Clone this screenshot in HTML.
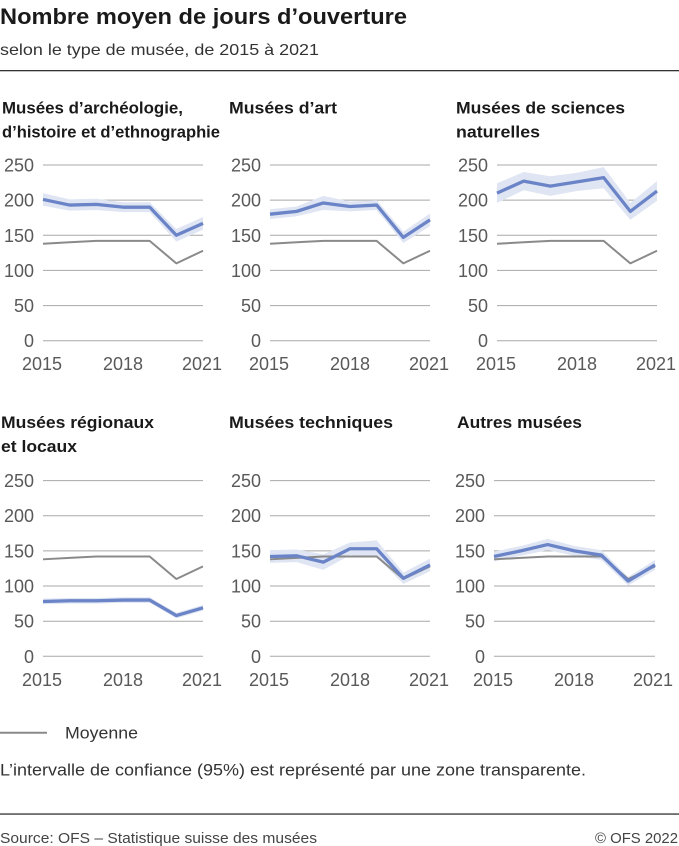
<!DOCTYPE html>
<html><head><meta charset="utf-8"><style>
html,body{margin:0;padding:0;background:#fff;}
svg{display:block;font-family:"Liberation Sans",Arial,sans-serif;}
.t{font-weight:bold;fill:#1a1a1a;}
.tk{font-size:18px;fill:#595959;}
.g{stroke:#a8a8a8;stroke-width:1;}
.band{fill:#dfe5f3;}
.avg{fill:none;stroke:#8a8a8a;stroke-width:2;vector-effect:non-scaling-stroke;stroke-linejoin:round;}
.blue{fill:none;stroke:#6a84c7;stroke-width:3.3;vector-effect:non-scaling-stroke;stroke-linejoin:round;}
</style></head><body>
<svg width="679" height="846" viewBox="0 0 679 846" xmlns="http://www.w3.org/2000/svg">
<text x="0" y="24" font-size="22" class="t" textLength="407" lengthAdjust="spacingAndGlyphs">Nombre moyen de jours d’ouverture</text>
<text x="0" y="55" font-size="16" fill="#333" textLength="319" lengthAdjust="spacingAndGlyphs">selon le type de musée, de 2015 à 2021</text>
<rect x="0" y="70" width="679" height="1.3" fill="#333"/>

<g font-size="17" class="t">
<text x="2" y="113.5" textLength="181" lengthAdjust="spacingAndGlyphs">Musées d’archéologie,</text>
<text x="2" y="137.5" textLength="218" lengthAdjust="spacingAndGlyphs">d’histoire et d’ethnographie</text>
<text x="229" y="113.5" textLength="108" lengthAdjust="spacingAndGlyphs">Musées d’art</text>
<text x="456" y="113.5" textLength="169" lengthAdjust="spacingAndGlyphs">Musées de sciences</text>
<text x="456" y="137.5" textLength="84" lengthAdjust="spacingAndGlyphs">naturelles</text>
<text x="1" y="428" textLength="153" lengthAdjust="spacingAndGlyphs">Musées régionaux</text>
<text x="1" y="452" textLength="76" lengthAdjust="spacingAndGlyphs">et locaux</text>
<text x="229" y="428" textLength="164" lengthAdjust="spacingAndGlyphs">Musées techniques</text>
<text x="457" y="428" textLength="125" lengthAdjust="spacingAndGlyphs">Autres musées</text>
</g>

<g class="g">
<line x1="43" x2="203" y1="165" y2="165"/><line x1="43" x2="203" y1="200.1" y2="200.1"/><line x1="43" x2="203" y1="235.3" y2="235.3"/><line x1="43" x2="203" y1="270.4" y2="270.4"/><line x1="43" x2="203" y1="305.6" y2="305.6"/><line x1="43" x2="203" y1="340.7" y2="340.7"/>
<line x1="270" x2="430" y1="165" y2="165"/><line x1="270" x2="430" y1="200.1" y2="200.1"/><line x1="270" x2="430" y1="235.3" y2="235.3"/><line x1="270" x2="430" y1="270.4" y2="270.4"/><line x1="270" x2="430" y1="305.6" y2="305.6"/><line x1="270" x2="430" y1="340.7" y2="340.7"/>
<line x1="497" x2="657" y1="165" y2="165"/><line x1="497" x2="657" y1="200.1" y2="200.1"/><line x1="497" x2="657" y1="235.3" y2="235.3"/><line x1="497" x2="657" y1="270.4" y2="270.4"/><line x1="497" x2="657" y1="305.6" y2="305.6"/><line x1="497" x2="657" y1="340.7" y2="340.7"/>
<line x1="43" x2="203" y1="480.6" y2="480.6"/><line x1="43" x2="203" y1="515.7" y2="515.7"/><line x1="43" x2="203" y1="550.9" y2="550.9"/><line x1="43" x2="203" y1="586" y2="586"/><line x1="43" x2="203" y1="621.2" y2="621.2"/><line x1="43" x2="203" y1="656.3" y2="656.3"/>
<line x1="270" x2="430" y1="480.6" y2="480.6"/><line x1="270" x2="430" y1="515.7" y2="515.7"/><line x1="270" x2="430" y1="550.9" y2="550.9"/><line x1="270" x2="430" y1="586" y2="586"/><line x1="270" x2="430" y1="621.2" y2="621.2"/><line x1="270" x2="430" y1="656.3" y2="656.3"/>
<line x1="494" x2="655" y1="480.6" y2="480.6"/><line x1="494" x2="655" y1="515.7" y2="515.7"/><line x1="494" x2="655" y1="550.9" y2="550.9"/><line x1="494" x2="655" y1="586" y2="586"/><line x1="494" x2="655" y1="621.2" y2="621.2"/><line x1="494" x2="655" y1="656.3" y2="656.3"/>
</g>

<g class="tk" text-anchor="end">
<text x="34" y="171.5">250</text><text x="34" y="206.6">200</text><text x="34" y="241.8">150</text><text x="34" y="276.9">100</text><text x="34" y="312.1">50</text><text x="34" y="347.2">0</text>
<text x="261" y="171.5">250</text><text x="261" y="206.6">200</text><text x="261" y="241.8">150</text><text x="261" y="276.9">100</text><text x="261" y="312.1">50</text><text x="261" y="347.2">0</text>
<text x="488" y="171.5">250</text><text x="488" y="206.6">200</text><text x="488" y="241.8">150</text><text x="488" y="276.9">100</text><text x="488" y="312.1">50</text><text x="488" y="347.2">0</text>
<text x="34" y="487.1">250</text><text x="34" y="522.2">200</text><text x="34" y="557.4">150</text><text x="34" y="592.5">100</text><text x="34" y="627.7">50</text><text x="34" y="662.8">0</text>
<text x="261" y="487.1">250</text><text x="261" y="522.2">200</text><text x="261" y="557.4">150</text><text x="261" y="592.5">100</text><text x="261" y="627.7">50</text><text x="261" y="662.8">0</text>
<text x="485" y="487.1">250</text><text x="485" y="522.2">200</text><text x="485" y="557.4">150</text><text x="485" y="592.5">100</text><text x="485" y="627.7">50</text><text x="485" y="662.8">0</text>
</g>
<g class="tk" text-anchor="middle">
<text x="42" y="370">2015</text><text x="123" y="370">2018</text><text x="202" y="370">2021</text>
<text x="269" y="370">2015</text><text x="350" y="370">2018</text><text x="429" y="370">2021</text>
<text x="496" y="370">2015</text><text x="577" y="370">2018</text><text x="656" y="370">2021</text>
<text x="42" y="686">2015</text><text x="123" y="686">2018</text><text x="202" y="686">2021</text>
<text x="269" y="686">2015</text><text x="350" y="686">2018</text><text x="429" y="686">2021</text>
<text x="493" y="686">2015</text><text x="574" y="686">2018</text><text x="653" y="686">2021</text>
</g>

<g transform="translate(43,340.7) scale(26.667,-0.7028)">
<polygon class="band" points="0,210 1,201 2,202 3,197 4,197 5,159 6,176 6,158 5,141 4,183 3,183 2,186 1,185 0,192"/>
<polyline class="avg" points="0,138 1,140 2,142 3,142 4,142 5,110 6,128"/>
<polyline class="blue" points="0,201 1,193 2,194 3,190 4,190 5,150 6,167"/>
</g>
<g transform="translate(270,340.7) scale(26.667,-0.7028)">
<polygon class="band" points="0,187 1,191 2,206 3,198 4,200 5,155 6,181 6,163 5,139 4,186 3,184 2,186 1,177 0,173"/>
<polyline class="avg" points="0,138 1,140 2,142 3,142 4,142 5,110 6,128"/>
<polyline class="blue" points="0,180 1,184 2,196 3,191 4,193 5,147 6,172"/>
</g>
<g transform="translate(497,340.7) scale(26.667,-0.7028)">
<polygon class="band" points="0,224 1,240 2,234 3,239 4,247 5,196 6,227 6,199 5,172 4,217 3,213 2,206 1,214 0,196"/>
<polyline class="avg" points="0,138 1,140 2,142 3,142 4,142 5,110 6,128"/>
<polyline class="blue" points="0,210 1,227 2,220 3,226 4,232 5,184 6,213"/>
</g>
<g transform="translate(43,656.3) scale(26.667,-0.7028)">
<polygon class="band" points="0,82 1,83 2,83 3,84 4,84 5,62 6,73 6,65 5,54 4,76 3,76 2,75 1,75 0,74"/>
<polyline class="avg" points="0,138 1,140 2,142 3,142 4,142 5,110 6,128"/>
<polyline class="blue" points="0,78 1,79 2,79 3,80 4,80 5,58 6,69"/>
</g>
<g transform="translate(270,656.3) scale(26.667,-0.7028)">
<polygon class="band" points="0,151 1,152 2,145 3,162 4,165 5,119 6,139 6,121 5,103 4,141 3,144 2,123 1,134 0,133"/>
<polyline class="avg" points="0,138 1,140 2,142 3,142 4,142 5,110 6,128"/>
<polyline class="blue" points="0,142 1,143 2,134 3,153 4,153 5,111 6,130"/>
</g>
<g transform="translate(494,656.3) scale(26.833,-0.7028)">
<polygon class="band" points="0,149 1,157 2,167 3,157 4,151 5,113 6,137 6,123 5,101 4,137 3,143 2,151 1,143 0,135"/>
<polyline class="avg" points="0,138 1,140 2,142 3,142 4,142 5,110 6,128"/>
<polyline class="blue" points="0,142 1,150 2,159 3,150 4,144 5,107 6,130"/>
</g>

<line x1="0" x2="47" y1="732.7" y2="732.7" stroke="#8a8a8a" stroke-width="2"/>
<text x="65" y="738.5" font-size="16.5" fill="#333" textLength="73" lengthAdjust="spacingAndGlyphs">Moyenne</text>
<text x="0" y="775.5" font-size="16.5" fill="#333" textLength="586" lengthAdjust="spacingAndGlyphs">L’intervalle de confiance (95%) est représenté par une zone transparente.</text>

<rect x="0" y="813.4" width="679" height="1.3" fill="#333"/>
<text x="0" y="843" font-size="15" fill="#444" textLength="317" lengthAdjust="spacingAndGlyphs">Source: OFS – Statistique suisse des musées</text>
<text x="595" y="843" font-size="15" fill="#444" textLength="83" lengthAdjust="spacingAndGlyphs">© OFS 2022</text>
</svg>
</body></html>
